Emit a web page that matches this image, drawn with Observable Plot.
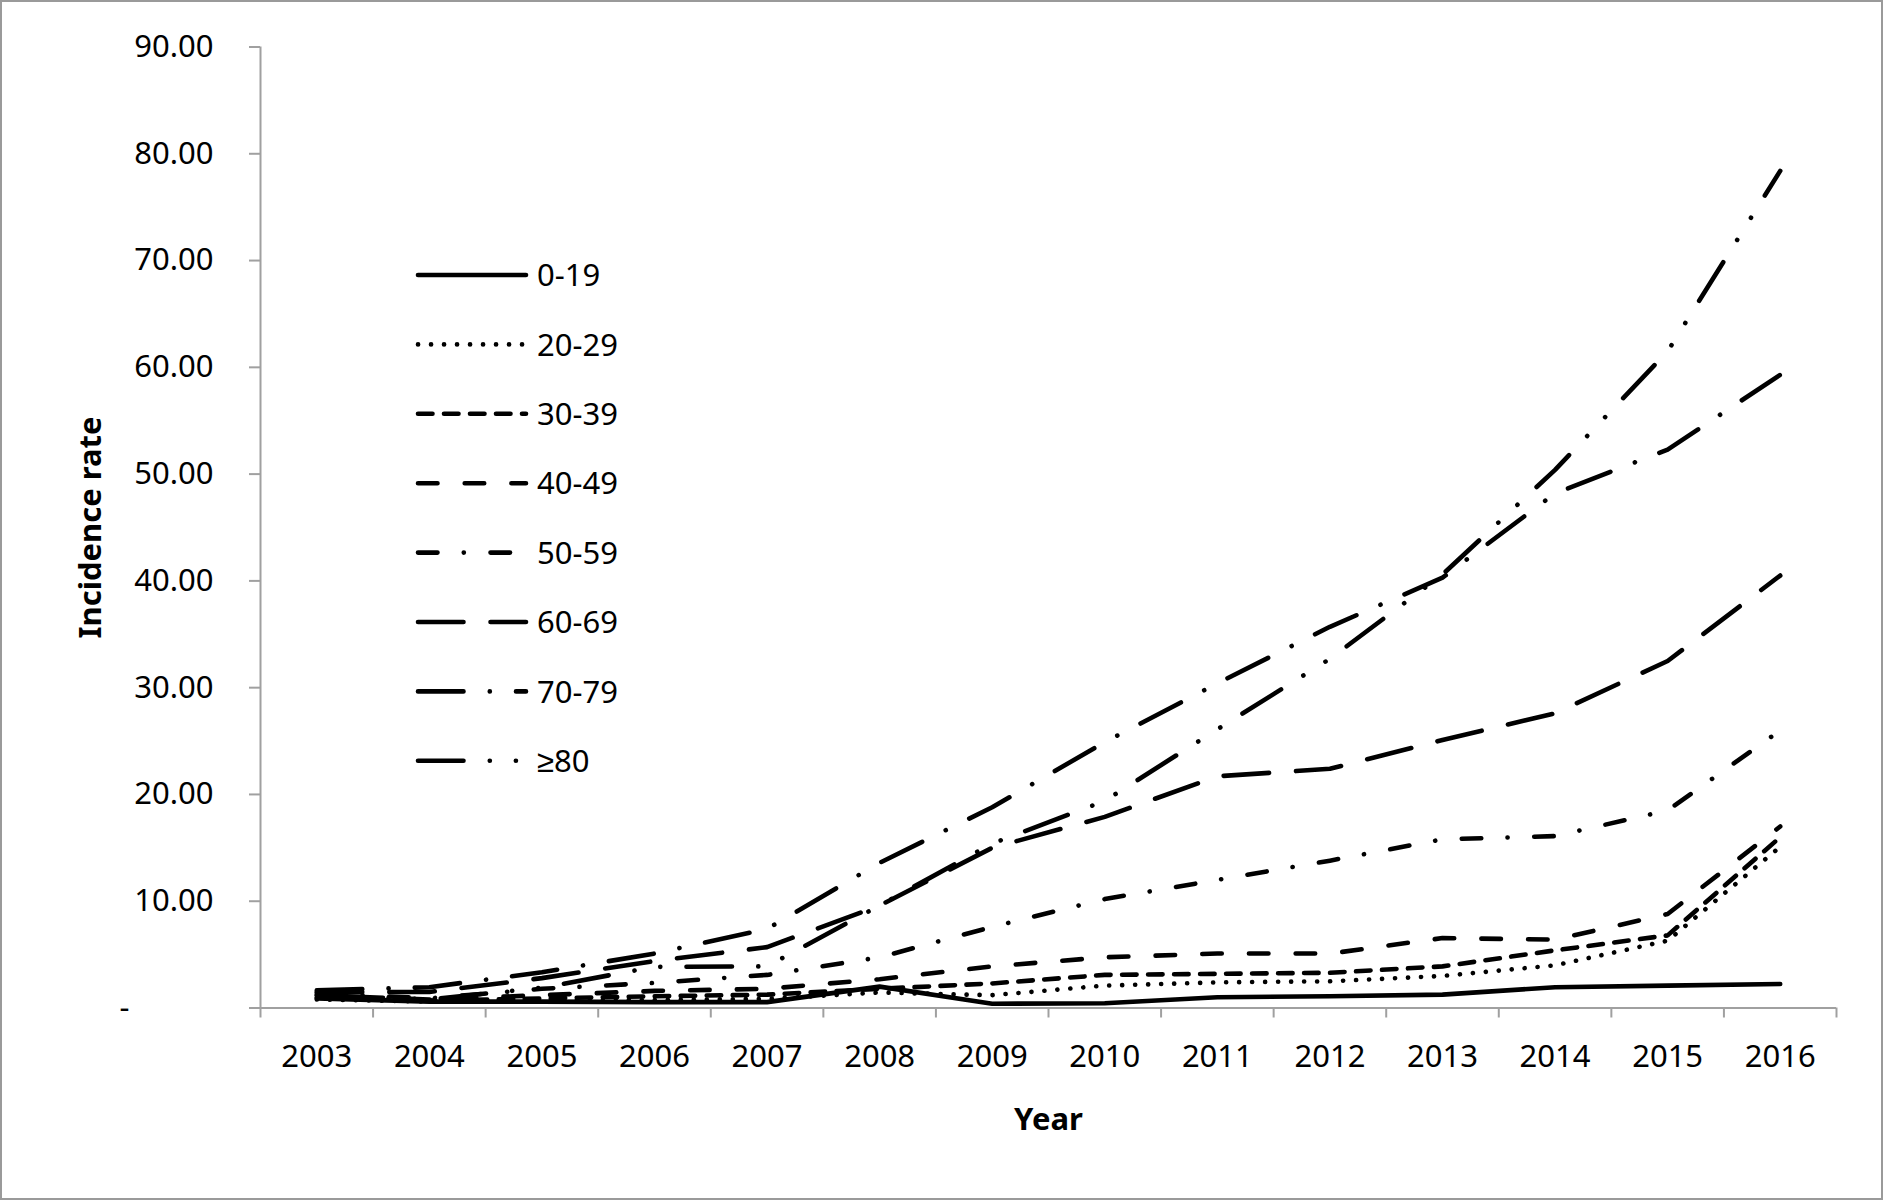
<!DOCTYPE html>
<html>
<head>
<meta charset="utf-8">
<script src="https://cdn.jsdelivr.net/npm/d3@7"></script>
<script src="https://cdn.jsdelivr.net/npm/@observablehq/plot@0.6"></script>
<style>
  html, body { margin: 0; padding: 0; background: #fff; }
  #wrap { position: relative; width: 1883px; height: 1200px; overflow: hidden; font-family: "Noto Sans", sans-serif; }
  #border { position: absolute; left: 0; top: 0; width: 1883px; height: 1200px; box-sizing: border-box; border: 2px solid #9a9a9a; pointer-events: none; }
  #legend { position: absolute; left: 0; top: 0; }
  g[aria-label="y-axis label"] text, g[aria-label="x-axis label"] text { font-weight: 700; }
</style>
</head>
<body>
<div id="wrap"></div>
<script>
// ---- data ----
const years = [2003, 2004, 2005, 2006, 2007, 2008, 2009, 2010, 2011, 2012, 2013, 2014, 2015, 2016];
const groups = ["0-19", "20-29", "30-39", "40-49", "50-59", "60-69", "70-79", "≥80"];
const age0_19  = [0.9, 0.6, 0.6, 0.55, 0.55, 2.0, 0.4, 0.45, 1.0, 1.1, 1.25, 1.95, 2.1, 2.25];
const age20_29 = [0.8, 0.6, 0.7, 0.75, 0.85, 1.45, 1.2, 2.1, 2.4, 2.5, 3.0, 4.0, 6.3, 15.1];
const age30_39 = [1.0, 0.7, 0.9, 1.1, 1.25, 1.8, 2.3, 3.1, 3.2, 3.3, 3.9, 5.4, 6.8, 16.0];
const age40_49 = [1.2, 0.8, 1.2, 1.6, 1.8, 2.7, 3.9, 4.75, 5.1, 5.1, 6.55, 6.4, 8.8, 17.0];
const age50_59 = [1.4, 0.9, 1.8, 2.35, 3.1, 4.75, 7.6, 10.2, 12.0, 13.8, 15.8, 16.1, 18.5, 26.0];
const age60_69 = [1.5, 1.5, 2.8, 4.4, 5.7, 9.6, 15.0, 17.9, 21.7, 22.4, 25.1, 27.6, 32.5, 40.5];
const age70_79 = [1.65, 1.95, 3.35, 5.1, 7.4, 13.6, 18.8, 24.9, 30.4, 35.7, 40.3, 48.2, 52.3, 59.3];
const age80    = [1.2, 0.8, 1.9, 3.85, 3.9, 9.6, 15.4, 19.4, 26.1, 32.7, 40.6, 50.4, 61.5, 78.4];
const yTicks = [0, 10, 20, 30, 40, 50, 60, 70, 80, 90];
const xLabel = "Year";
const yLabel = "Incidence rate";

// ---- styles ----
const dashes = {
  "0-19": null,
  "20-29": "0.1 12.9",
  "30-39": "14.5 11.5",
  "40-49": "19.5 27.2",
  "50-59": "19.5 26.25 0.1 26.65",
  "60-69": "45.5 27",
  "70-79": "45.5 26.25 0.1 26.15",
  "≥80": "45.5 26.25 0.1 26 0.1 26.15"
};
const seriesValues = [age0_19, age20_29, age30_39, age40_49, age50_59, age60_69, age70_79, age80];
const rows = [];
groups.forEach((g, gi) => years.forEach((yr, i) => rows.push({group: g, year: yr, value: seriesValues[gi][i]})));
const bounds = years.map(y => y - 0.5).concat([years[years.length - 1] + 0.5]);
const axisGray = "#a0a0a0";
const LW = 4.6;

const chart = Plot.plot({
  width: 1883,
  height: 1200,
  marginLeft: 260,
  marginRight: 47,
  marginTop: 46.5,
  marginBottom: 192.5,
  style: {fontFamily: "'Noto Sans', sans-serif", fontSize: "31px", color: "#000", background: "transparent", overflow: "visible"},
  x: {domain: [bounds[0], bounds[bounds.length - 1]], labelArrow: "none"},
  y: {domain: [0, 90], labelArrow: "none"},
  marks: [
    Plot.ruleX([bounds[0]], {y1: 0, y2: 90, stroke: axisGray, strokeWidth: 2}),
    Plot.ruleY([0], {x1: bounds[0], x2: bounds[bounds.length - 1], stroke: axisGray, strokeWidth: 2}),
    Plot.axisY(yTicks, {tickFormat: d => d === 0 ? "" : d.toFixed(2), tickSize: 11, tickPadding: 36, stroke: axisGray, strokeWidth: 2, fill: "#000", label: yLabel, labelArrow: "none", labelAnchor: "center", labelOffset: 182}),
    Plot.axisY([0], {tickFormat: () => "-", tickSize: 0, tickPadding: 131, fill: "#000", label: null}),
    Plot.axisX(bounds, {tickFormat: () => "", tickSize: 10, stroke: axisGray, strokeWidth: 2, label: null}),
    Plot.axisX(years, {tickFormat: d => String(d), tickSize: 0, tickPadding: 37, fill: "#000", label: xLabel, labelArrow: "none", labelAnchor: "center", labelOffset: 122}),
    ...groups.map(g => Plot.line(rows.filter(r => r.group === g), {
      x: "year", y: "value", stroke: "#000", strokeWidth: LW,
      strokeDasharray: dashes[g], strokeLinecap: "round", strokeLinejoin: "round"
    }))
  ]
});

const wrap = document.getElementById("wrap");
wrap.appendChild(chart);

// legend overlay
const leg = d3.select(wrap).append("svg").attr("id", "legend").attr("width", 1883).attr("height", 1200);
groups.forEach((g, i) => {
  const y = 275 + i * 69.4;
  leg.append("line").attr("x1", 418).attr("x2", 526).attr("y1", y).attr("y2", y)
    .attr("stroke", "#000").attr("stroke-width", LW).attr("stroke-linecap", "round")
    .attr("stroke-dasharray", dashes[g]);
  leg.append("text").attr("x", 537).attr("y", y).attr("dy", "0.36em")
    .attr("font-family", "'Noto Sans', sans-serif").attr("font-size", 31).attr("fill", "#000").text(g);
});

const border = document.createElement("div");
border.id = "border";
wrap.appendChild(border);
</script>
</body>
</html>
